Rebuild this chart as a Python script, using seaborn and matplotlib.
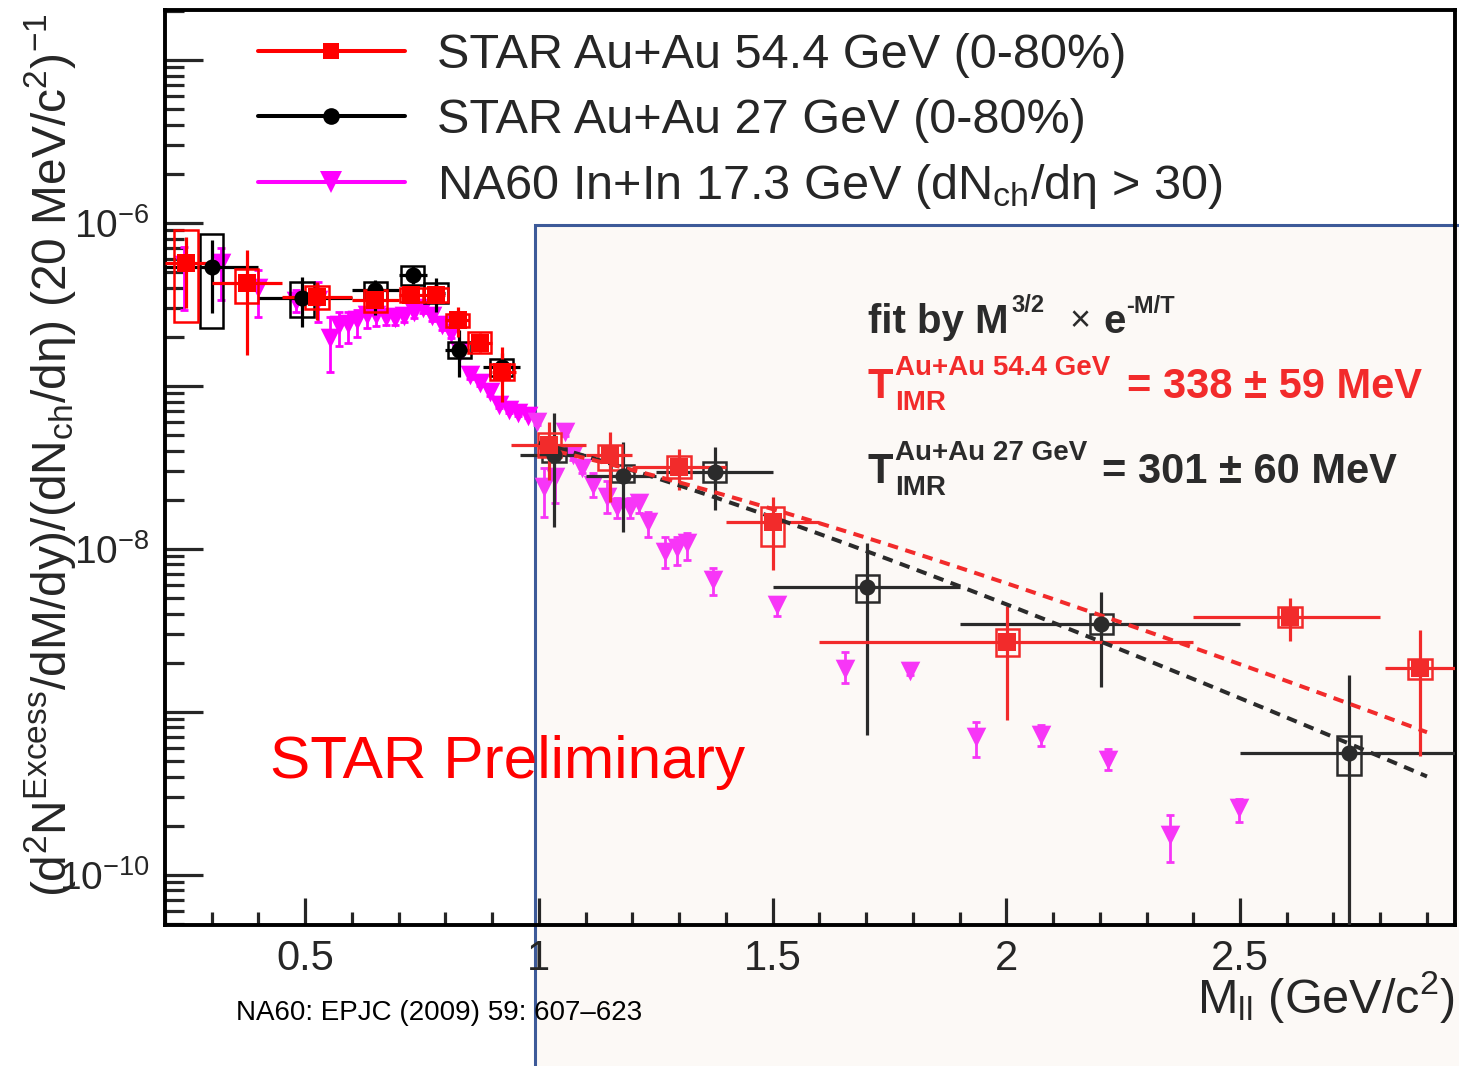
import numpy as np
import pandas as pd
import matplotlib
matplotlib.use("Agg")
import matplotlib.pyplot as plt
import seaborn as sns
from matplotlib.patches import Rectangle
from matplotlib.lines import Line2D
from matplotlib.ticker import LogLocator, MultipleLocator, FuncFormatter, NullFormatter

sns.set_style("ticks")
plt.rcParams["font.family"] = ["Liberation Sans", "DejaVu Sans"]
plt.rcParams["mathtext.fontset"] = "custom"
plt.rcParams["mathtext.rm"] = "Liberation Sans"
plt.rcParams["mathtext.it"] = "Liberation Sans:italic"
plt.rcParams["mathtext.bf"] = "Liberation Sans:bold"
plt.rcParams["mathtext.default"] = "rm"

# ---------------- data ----------------
# STAR Au+Au 54.4 GeV (0-80%)
star54_m = np.array([0.245, 0.375, 0.525, 0.65, 0.727, 0.78, 0.826, 0.873, 0.921,
                     1.022, 1.152, 1.30, 1.50, 2.002, 2.607, 2.885])
star54_bin_lo = np.array([0.20, 0.30, 0.45, 0.60, 0.70, 0.76, 0.80, 0.85, 0.90,
                          0.94, 1.10, 1.20, 1.40, 1.60, 2.40, 2.81])
star54_bin_hi = np.array([0.30, 0.45, 0.60, 0.70, 0.76, 0.80, 0.85, 0.90, 0.95,
                          1.10, 1.20, 1.40, 1.60, 2.40, 2.80, 3.00])
star54_y = np.array([5.64e-7, 4.25e-7, 3.52e-7, 3.36e-7, 3.6e-7, 3.6e-7, 2.53e-7, 1.83e-7, 1.21e-7,
                     4.33e-8, 3.76e-8, 3.16e-8, 1.46e-8, 2.68e-9, 3.81e-9, 1.85e-9])
star54_stat_hi = np.array([8.2e-7, 6.8e-7, 4.35e-7, 3.7e-7, 4.0e-7, 3.95e-7, 3.04e-7, 2.1e-7, 1.73e-7,
                           6.01e-8, 5.22e-8, 4.09e-8, 2.07e-8, 4.45e-9, 4.99e-9, 3.17e-9])
star54_stat_lo = np.array([2.98e-7, 1.54e-7, 2.53e-7, 3.0e-7, 3.2e-7, 3.25e-7, 1.99e-7, 1.6e-7, 7.94e-8,
                           2.64e-8, 1.94e-8, 2.29e-8, 7.4e-9, 8.9e-10, 2.72e-9, 5.35e-10])
star54_sys_hi = np.array([9.0e-7, 5.2e-7, 4.1e-7, 3.86e-7, 3.95e-7, 3.95e-7, 2.75e-7, 2.13e-7, 1.35e-7,
                          5.1e-8, 4.33e-8, 3.7e-8, 1.8e-8, 3.21e-9, 4.39e-9, 2.1e-9])
star54_sys_lo = np.array([2.47e-7, 3.23e-7, 2.96e-7, 2.83e-7, 3.25e-7, 3.25e-7, 2.3e-7, 1.58e-7, 1.08e-7,
                          3.65e-8, 3.04e-8, 2.72e-8, 1.04e-8, 2.2e-9, 3.31e-9, 1.58e-9])

# STAR Au+Au 27 GeV (0-80%)
star27_m = np.array([0.30, 0.493, 0.65, 0.73, 0.78, 0.83, 0.92, 1.032, 1.179, 1.376, 1.703, 2.203, 2.733])
star27_bin_lo = np.array([0.20, 0.40, 0.60, 0.70, 0.76, 0.80, 0.88, 0.96, 1.10, 1.25, 1.50, 1.90, 2.50])
star27_bin_hi = np.array([0.40, 0.60, 0.70, 0.76, 0.80, 0.85, 0.96, 1.10, 1.25, 1.50, 1.90, 2.50, 3.00])
star27_y = np.array([5.37e-7, 3.44e-7, 3.86e-7, 4.78e-7, 3.7e-7, 1.66e-7, 1.3e-7,
                     3.76e-8, 2.79e-8, 2.96e-8, 5.82e-9, 3.45e-9, 5.58e-10])
star27_stat_hi = np.array([7.83e-7, 4.67e-7, 4.45e-7, 5.4e-7, 4.58e-7, 2.2e-7, 1.58e-7,
                           6.8e-8, 4.53e-8, 4.21e-8, 1.08e-8, 5.42e-9, 1.68e-9])
star27_stat_lo = np.array([2.79e-7, 2.3e-7, 2.72e-7, 4.2e-7, 2.83e-7, 1.13e-7, 1.05e-7,
                           1.36e-8, 1.27e-8, 1.73e-8, 7.2e-10, 1.42e-9, 1e-12])
star27_sys_hi = np.array([8.5e-7, 4.35e-7, 4.33e-7, 5.42e-7, 4.27e-7, 1.85e-7, 1.45e-7,
                          4.15e-8, 3.27e-8, 3.4e-8, 6.9e-9, 3.97e-9, 7.1e-10])
star27_sys_lo = np.array([2.27e-7, 2.65e-7, 3.36e-7, 4.15e-7, 3.21e-7, 1.48e-7, 1.15e-7,
                          3.42e-8, 2.58e-8, 2.56e-8, 4.71e-9, 3.0e-9, 4.09e-10])

# NA60 In+In 17.3 GeV (dNch/deta > 30)
na60_m = np.array([0.24, 0.32, 0.40, 0.48, 0.528, 0.553, 0.573, 0.592, 0.611, 0.632, 0.652, 0.672,
                   0.692, 0.712, 0.733, 0.752, 0.772, 0.792, 0.811, 0.831, 0.853, 0.874, 0.895,
                   0.915, 0.936, 0.956, 0.976, 0.996, 1.011, 1.034, 1.056, 1.072, 1.092, 1.115,
                   1.145, 1.167, 1.194, 1.214, 1.233, 1.27, 1.295, 1.316, 1.372, 1.51, 1.654,
                   1.793, 1.936, 2.075, 2.218, 2.35, 2.498])
na60_y = np.array([5.5e-7, 5.66e-7, 3.97e-7, 3.31e-7, 3.36e-7, 1.96e-7, 2.36e-7, 2.39e-7, 2.53e-7,
                   2.72e-7, 2.72e-7, 2.64e-7, 2.6e-7, 2.68e-7, 2.83e-7, 3.0e-7, 2.68e-7, 2.36e-7,
                   2.1e-7, 1.61e-7, 1.16e-7, 1.04e-7, 9.14e-8, 7.62e-8, 7.1e-8, 6.8e-8, 6.52e-8,
                   5.98e-8, 2.39e-8, 2.75e-8, 5.2e-8, 3.76e-8, 3.13e-8, 2.46e-8, 2.07e-8, 1.8e-8,
                   1.78e-8, 1.9e-8, 1.46e-8, 9.55e-9, 1.01e-8, 1.08e-8, 6.43e-9, 4.51e-9, 1.82e-9,
                   1.77e-9, 7.0e-10, 7.2e-10, 5.05e-10, 1.75e-10, 2.56e-10])
na60_hi = np.array([7.1e-7, 7.0e-7, 5.13e-7, 3.86e-7, 4.33e-7, 2.64e-7, 2.83e-7, 2.83e-7, 2.91e-7,
                    3.04e-7, 3.0e-7, 2.91e-7, 2.8e-7, 2.85e-7, 3.0e-7, 3.15e-7, 2.8e-7, 2.48e-7,
                    2.2e-7, 1.68e-7, 1.21e-7, 1.08e-7, 9.5e-8, 7.9e-8, 7.35e-8, 7.05e-8, 6.75e-8,
                    6.2e-8, 3.13e-8, 3.04e-8, 5.5e-8, 4.0e-8, 3.35e-8, 2.91e-8, 2.6e-8, 2.05e-8,
                    2.05e-8, 2.07e-8, 1.68e-8, 1.18e-8, 1.18e-8, 1.25e-8, 7.6e-9, 5.03e-9, 2.32e-9,
                    1.85e-9, 8.65e-10, 8.28e-10, 5.9e-10, 2.32e-10, 2.91e-10])
na60_lo = np.array([2.91e-7, 3.36e-7, 2.64e-7, 2.83e-7, 2.46e-7, 1.21e-7, 1.75e-7, 1.83e-7, 1.99e-7,
                    2.26e-7, 2.32e-7, 2.36e-7, 2.35e-7, 2.45e-7, 2.6e-7, 2.8e-7, 2.5e-7, 2.2e-7,
                    1.96e-7, 1.5e-7, 1.1e-7, 9.9e-8, 8.7e-8, 7.3e-8, 6.8e-8, 6.55e-8, 6.3e-8,
                    5.75e-8, 1.57e-8, 1.9e-8, 4.9e-8, 3.5e-8, 2.9e-8, 2.07e-8, 1.66e-8, 1.55e-8,
                    1.54e-8, 1.66e-8, 1.18e-8, 7.62e-9, 7.94e-9, 8.53e-9, 5.19e-9, 3.86e-9, 1.5e-9,
                    1.69e-9, 5.27e-10, 6.15e-10, 4.38e-10, 1.19e-10, 2.1e-10])

# fits M^{3/2} exp(-M/T) in the intermediate mass range
fit_T_gev = [0.338, 0.301]
fit_T_err_mev = [59, 60]
fit_norm_at_2gev = [6.14e-9, 4.56e-9]
fit_range = (1.0, 2.9)

legend_labels = ["STAR Au+Au 54.4 GeV (0-80%)",
                 "STAR Au+Au 27 GeV (0-80%)",
                 "NA60 In+In 17.3 GeV (dN$_{\\rm ch}$/dη > 30)"]
y_label_exponents = [-6, -8, -10]

# ---------------- styling ----------------
W, H = 1459, 1066
RED, RED_P = "#ff0000", "#f22b2b"
BLACK, BLACK_P = "#000000", "#2b2b2b"
MAG, MAG_P = "#ff00ff", "#f736f7"
PANEL_BG, PANEL_EDGE = "#fcf9f6", "#3d5a99"
PANEL_M = 0.99          # mass where the shaded IMR panel begins


def fx(px):
    return px / W


def fy(py):
    return 1 - py / H


fig = plt.figure(figsize=(W / 100, H / 100), dpi=100, facecolor="white")
ax = fig.add_axes([fx(165), fy(925), (1455 - 165) / W, (925 - 10) / H])
ax.set_facecolor("none")

# shaded intermediate-mass panel behind the data
fig.add_artist(Rectangle((fx(535), -0.01), 1.02 - fx(535), fy(225) + 0.01,
                         transform=fig.transFigure, facecolor=PANEL_BG,
                         edgecolor=PANEL_EDGE, lw=2.2, zorder=-1))

ax.set_yscale("log")
ax.set_xlim(0.2, 2.96)
ax.set_ylim(4.91e-11, 2.02e-5)


def draw_star(m, blo, bhi, y, slo, shi, ylo, yhi, marker, size, colors, z):
    inside = m >= PANEL_M
    for mask, col in ((~inside, colors[0]), (inside, colors[1])):
        if not mask.any():
            continue
        ax.errorbar(m[mask], y[mask],
                    xerr=[m[mask] - blo[mask], bhi[mask] - m[mask]],
                    yerr=[y[mask] - slo[mask], shi[mask] - y[mask]],
                    fmt="none", ecolor=col, elinewidth=2.3, capsize=0, zorder=z)
        for mi, lo, hi in zip(m[mask], ylo[mask], yhi[mask]):
            ax.add_patch(Rectangle((mi - 0.025, lo), 0.05, hi - lo, fill=False,
                                   edgecolor=col, lw=1.8, zorder=z))
        df = pd.DataFrame({"M": m[mask], "dN": y[mask]})
        sns.scatterplot(data=df, x="M", y="dN", marker=marker, s=size, color=col,
                        edgecolor=col, linewidth=0, ax=ax, zorder=z + 1, legend=False)


# NA60 points (drawn beneath the STAR points)
inside = na60_m >= PANEL_M
for mask, col in ((~inside, MAG), (inside, MAG_P)):
    ax.errorbar(na60_m[mask], na60_y[mask],
                yerr=[na60_y[mask] - na60_lo[mask], na60_hi[mask] - na60_y[mask]],
                fmt="none", ecolor=col, elinewidth=2.0, capsize=3, capthick=2.0, zorder=2)
    sns.scatterplot(data=pd.DataFrame({"M": na60_m[mask], "dN": na60_y[mask]}),
                    x="M", y="dN", marker="v", s=200, color=col, edgecolor=col,
                    linewidth=0, ax=ax, zorder=2.5, legend=False)

draw_star(star27_m, star27_bin_lo, star27_bin_hi, star27_y, star27_stat_lo, star27_stat_hi,
          star27_sys_lo, star27_sys_hi, "o", 135, (BLACK, BLACK_P), 3)
draw_star(star54_m, star54_bin_lo, star54_bin_hi, star54_y, star54_stat_lo, star54_stat_hi,
          star54_sys_lo, star54_sys_hi, "s", 160, (RED, RED_P), 3.2)

# thermal fits
mfit = np.linspace(fit_range[0], fit_range[1], 200)
for T, n2, col in ((fit_T_gev[1], fit_norm_at_2gev[1], BLACK_P), (fit_T_gev[0], fit_norm_at_2gev[0], RED_P)):
    fit_df = pd.DataFrame({"M": mfit, "f": n2 * (mfit / 2.0) ** 1.5 * np.exp(-(mfit - 2.0) / T)})
    sns.lineplot(data=fit_df, x="M", y="f", ax=ax, color=col, lw=2.9,
                 dashes=False, zorder=3.6, legend=False)
    ax.lines[-1].set_dashes([2.6, 1.9])

# axes, ticks
for sp in ax.spines.values():
    sp.set_visible(True)
    sp.set_linewidth(2.8)
    sp.set_color("black")

ax.xaxis.set_major_locator(MultipleLocator(0.5))
ax.xaxis.set_minor_locator(MultipleLocator(0.1))
ax.xaxis.set_major_formatter(FuncFormatter(lambda v, p: f"{v:g}"))
ax.yaxis.set_major_locator(LogLocator(base=10, subs=(1.0,), numticks=30))
ax.yaxis.set_minor_locator(LogLocator(base=10, subs=np.arange(2, 10), numticks=30))
ax.yaxis.set_minor_formatter(NullFormatter())


def ylab(v, p):
    e = int(round(np.log10(v)))
    return r"$10^{%d}$" % e if e in y_label_exponents else ""


ax.yaxis.set_major_formatter(FuncFormatter(ylab))
ax.tick_params(axis="x", which="major", direction="in", length=19.5, width=2.3,
               labelsize=30, pad=10, top=False)
ax.tick_params(axis="x", which="minor", direction="in", length=9.7, width=2.3, top=False)
ax.tick_params(axis="y", which="major", direction="in", length=27.5, width=2.3,
               labelsize=28, pad=11, right=False)
ax.tick_params(axis="y", which="minor", direction="in", length=13.7, width=2.3, right=False)
ax.set_xlabel("")
ax.set_ylabel("")

fig.text(fx(50), fy(455),
         "(d$^{2}$N$^{\\rm Excess}$/dM/dy)/(dN$_{\\rm ch}$/dη) (20 MeV/c$^{2}$)$^{-1}$",
         rotation=90, ha="center", va="center", fontsize=34.5)
fig.text(fx(1455), fy(1013), "M$_{\\rm ll}$ (GeV/c$^{2}$)", ha="right", va="baseline", fontsize=35)

# legend
handles = [Line2D([0], [0], color=RED, lw=2.9, marker="s", ms=11.5, mew=0),
           Line2D([0], [0], color=BLACK, lw=2.9, marker="o", ms=12, mew=0),
           Line2D([0], [0], color=MAG, lw=2.9, marker="v", ms=16, mew=0)]
ax.legend(handles, legend_labels, loc="upper left", bbox_to_anchor=(fx(258), fy(33)),
          bbox_transform=fig.transFigure, frameon=False, fontsize=35, handlelength=3.02,
          handletextpad=0.66, labelspacing=0.405, borderpad=0, borderaxespad=0)

# fit annotation
fig.text(fx(868), fy(333), "fit by M", fontsize=29, fontweight="bold", color=BLACK_P, va="baseline")
fig.text(fx(1011), fy(312), "3/2", fontsize=17, fontweight="bold", color=BLACK_P, va="baseline")
fig.text(fx(1070), fy(331), "×", fontsize=26, color=BLACK_P, va="baseline")
fig.text(fx(1103), fy(333), "e", fontsize=29, fontweight="bold", color=BLACK_P, va="baseline")
fig.text(fx(1126), fy(313), "-M/T", fontsize=17, fontweight="bold", color=BLACK_P, va="baseline")

rows = [("Au+Au 54.4 GeV", fit_T_gev[0], fit_T_err_mev[0], RED_P, 398, 1127),
        ("Au+Au 27 GeV", fit_T_gev[1], fit_T_err_mev[1], BLACK_P, 483, 1102)]
for sup, T, err, col, base, xr in rows:
    fig.text(fx(868), fy(base), "T", fontsize=30, fontweight="bold", color=col, va="baseline")
    fig.text(fx(895), fy(base - 23), sup, fontsize=20, fontweight="bold", color=col, va="baseline")
    fig.text(fx(895), fy(base + 12), "IMR", fontsize=20, fontweight="bold", color=col, va="baseline")
    fig.text(fx(xr), fy(base), f"= {T * 1000:.0f} ± {err} MeV", fontsize=30,
             fontweight="bold", color=col, va="baseline")

fig.text(fx(270), fy(778), "STAR Preliminary", fontsize=43.5, color=RED, va="baseline")
fig.text(fx(236), fy(1020), "NA60: EPJC (2009) 59: 607–623", fontsize=20, color="black", va="baseline")

fig.savefig("out.png", dpi=100, facecolor="white")
